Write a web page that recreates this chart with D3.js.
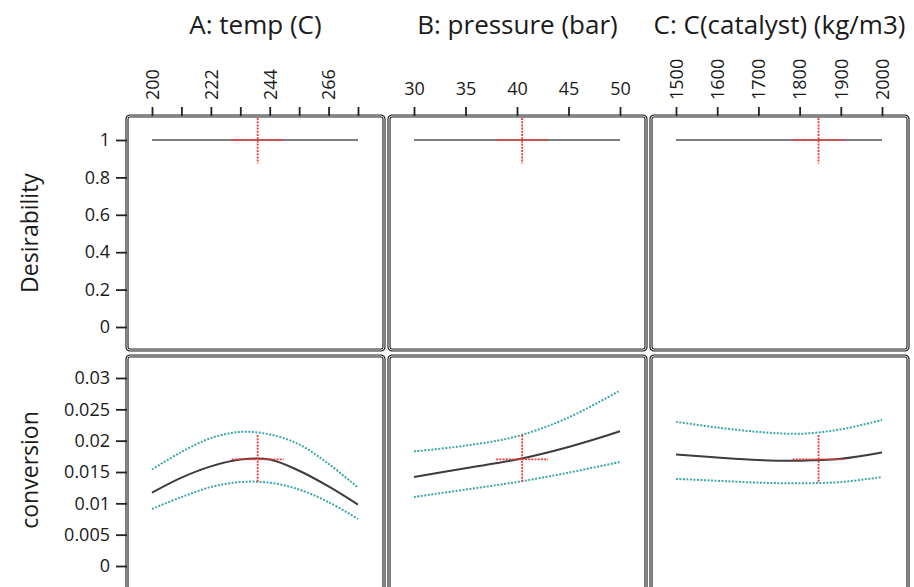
<!DOCTYPE html>
<html>
<head>
<meta charset="utf-8">
<script src="https://cdn.jsdelivr.net/npm/d3@7"></script>
<style>
  body { margin: 0; background: #fff; }
  svg { display: block; font-family: "Open Sans", sans-serif; }
</style>
</head>
<body>
<div id="chart"></div>
<script>
// factor titles and response names
const factorTitles = ["A: temp (C)", "B: pressure (bar)", "C: C(catalyst) (kg/m3)"];
const responseNames = ["Desirability", "conversion"];

// A: temp
const tempX = [200, 211, 222, 233, 244, 255, 266, 277];
const tempFit = [0.0117, 0.0141, 0.0159, 0.0170, 0.0170, 0.0152, 0.0127, 0.0098];
const tempHigh = [0.0154, 0.0182, 0.0204, 0.0214, 0.0210, 0.0194, 0.0163, 0.0125];
const tempLow = [0.0091, 0.0110, 0.0126, 0.0134, 0.0133, 0.0122, 0.0102, 0.0075];
const tempDesir = [1, 1, 1, 1, 1, 1, 1, 1];
const tempTicks = [200, 211, 222, 233, 244, 255, 266, 277];
const tempLabels = [200, 222, 244, 266];

// B: pressure
const pressureX = [30, 35, 40, 45, 50];
const pressureFit = [0.0142, 0.0156, 0.0170, 0.0190, 0.0215];
const pressureHigh = [0.0183, 0.0192, 0.0207, 0.0237, 0.0280];
const pressureLow = [0.0110, 0.0122, 0.0134, 0.0149, 0.0166];
const pressureDesir = [1, 1, 1, 1, 1];
const pressureTicks = [30, 35, 40, 45, 50];

// C: catalyst
const catalystX = [1500, 1600, 1700, 1800, 1900, 2000];
const catalystFit = [0.0178, 0.0173, 0.0169, 0.0168, 0.0171, 0.0181];
const catalystHigh = [0.0230, 0.0221, 0.0214, 0.0211, 0.0218, 0.0233];
const catalystLow = [0.0139, 0.0136, 0.0133, 0.0132, 0.0134, 0.0142];
const catalystDesir = [1, 1, 1, 1, 1, 1];
const catalystTicks = [1500, 1600, 1700, 1800, 1900, 2000];

// optimum setting (red crosshair)
const optimum = [239.5, 40.5, 1846];
const optDesir = 1;
const optDesirBand = [0.875, 1.125];
const optConv = 0.0170;
const optConvBand = [0.0134, 0.0209];

const desirTicks = [0, 0.2, 0.4, 0.6, 0.8, 1];
const convTicks = [0, 0.005, 0.01, 0.015, 0.02, 0.025, 0.03];

const columns = [
    { title: factorTitles[0], domain: [200, 277], x: tempX, fit: tempFit, hi: tempHigh, lo: tempLow, des: tempDesir,
      ticks: tempTicks, labels: tempLabels, rotate: true },
    { title: factorTitles[1], domain: [30, 50], x: pressureX, fit: pressureFit, hi: pressureHigh, lo: pressureLow, des: pressureDesir,
      ticks: pressureTicks, labels: pressureTicks, rotate: false },
    { title: factorTitles[2], domain: [1500, 2000], x: catalystX, fit: catalystFit, hi: catalystHigh, lo: catalystLow, des: catalystDesir,
      ticks: catalystTicks, labels: catalystTicks, rotate: true }
];

const width = 914, height = 587;
const left = 127, panelW = 257, gapX = 5;
const top0 = 116, panelH = 234, gapY = 6;
const padX = 25, padY = 23;
const crossHalf = 26;
const ink = "#1a1a1a";

const svg = d3.select("#chart").append("svg")
    .attr("width", width)
    .attr("height", height);

const yDesir = d3.scaleLinear().domain([0, 1]).range([top0 + panelH - padY, top0 + padY + 1]);
const row2 = top0 + panelH + gapY;
const yConv = d3.scaleLinear().domain([0, 0.03]).range([row2 + panelH - padY - 1, row2 + padY - 1]);

function drawPanel(x0, y0) {
    svg.append("rect")
        .attr("x", x0).attr("y", y0)
        .attr("width", panelW).attr("height", panelH)
        .attr("rx", 3)
        .attr("fill", "#fff")
        .attr("stroke", "#222")
        .attr("stroke-width", 3.2);
    svg.append("rect")
        .attr("x", x0).attr("y", y0)
        .attr("width", panelW).attr("height", panelH)
        .attr("rx", 3)
        .attr("fill", "none")
        .attr("stroke", "#e6e6e6")
        .attr("stroke-width", 1);
}

columns.forEach((col, i) => {
    const x0 = left + i * (panelW + gapX);
    const x = d3.scaleLinear().domain(col.domain).range([x0 + padX, x0 + panelW - padX - 1]);

    drawPanel(x0, top0);
    drawPanel(x0, row2);

    // column title
    svg.append("text")
        .attr("x", x0 + panelW / 2)
        .attr("y", 34)
        .attr("text-anchor", "middle")
        .style("font-size", "26px")
        .style("fill", ink)
        .text(col.title);

    // top axis
    const ax = svg.append("g")
        .attr("transform", `translate(0,${top0})`)
        .call(d3.axisTop(x).tickValues(col.ticks).tickSize(9).tickPadding(12)
            .tickFormat(d => col.labels.includes(d) ? d : ""));
    ax.select(".domain").remove();
    ax.selectAll("line").attr("stroke", "#222").attr("stroke-width", 1.8);
    ax.selectAll("text").style("font-size", "18px").style("fill", ink)
        .style("font-family", "Open Sans, sans-serif");
    if (col.rotate) {
        ax.selectAll("text")
            .attr("transform", "rotate(-90)")
            .attr("x", 16).attr("y", 0).attr("dy", "0.35em")
            .style("text-anchor", "start");
    }

    // desirability line
    const desLine = d3.line().x((d, k) => x(col.x[k])).y(d => yDesir(d));
    svg.append("path")
        .datum(col.des)
        .attr("d", desLine)
        .attr("fill", "none")
        .attr("stroke", "#555")
        .attr("stroke-width", 1.6);

    // conversion lines
    const line = d3.line()
        .x((d, k) => x(col.x[k]))
        .y(d => yConv(d))
        .curve(d3.curveCatmullRom.alpha(0.5));

    [col.hi, col.lo].forEach(s => {
        svg.append("path")
            .datum(s)
            .attr("d", line)
            .attr("fill", "none")
            .attr("stroke", "#3ea6a8")
            .attr("stroke-width", 2)
            .attr("stroke-dasharray", "2,1.5");
    });
    svg.append("path")
        .datum(col.fit)
        .attr("d", line)
        .attr("fill", "none")
        .attr("stroke", "#3c3c3c")
        .attr("stroke-width", 2);

    // red crosshairs
    const ox = x(optimum[i]);
    const red = (x1, y1, x2, y2) => svg.append("line")
        .attr("x1", x1).attr("y1", y1).attr("x2", x2).attr("y2", y2)
        .attr("stroke", "#f03a3a")
        .attr("stroke-width", 1.8)
        .attr("stroke-dasharray", "2,1.2");
    red(ox, Math.max(yDesir(optDesirBand[1]), top0 + 2), ox, yDesir(optDesirBand[0]));
    red(ox - crossHalf, yDesir(optDesir), ox + crossHalf, yDesir(optDesir));
    red(ox, yConv(optConvBand[1]), ox, yConv(optConvBand[0]));
    red(ox - crossHalf, yConv(optConv), ox + crossHalf, yConv(optConv));
});

// left axes
function leftAxis(y, ticks, fmt) {
    const g = svg.append("g")
        .attr("transform", `translate(${left},0)`)
        .call(d3.axisLeft(y).tickValues(ticks).tickSize(11).tickPadding(6).tickFormat(fmt));
    g.select(".domain").remove();
    g.selectAll("line").attr("stroke", "#222").attr("stroke-width", 1.8);
    g.selectAll("text").style("font-size", "18px").style("fill", ink)
        .style("font-family", "Open Sans, sans-serif");
}
leftAxis(yDesir, desirTicks, d => d3.format("")(d));
leftAxis(yConv, convTicks, d => d3.format("")(d));

// response labels
[[responseNames[0], top0 + panelH / 2], [responseNames[1], row2 + panelH / 2 - 3]].forEach(([t, cy]) => {
    svg.append("text")
        .attr("transform", `translate(38,${cy}) rotate(-90)`)
        .attr("text-anchor", "middle")
        .style("font-size", "23px")
        .style("fill", ink)
        .text(t);
});
</script>
</body>
</html>
